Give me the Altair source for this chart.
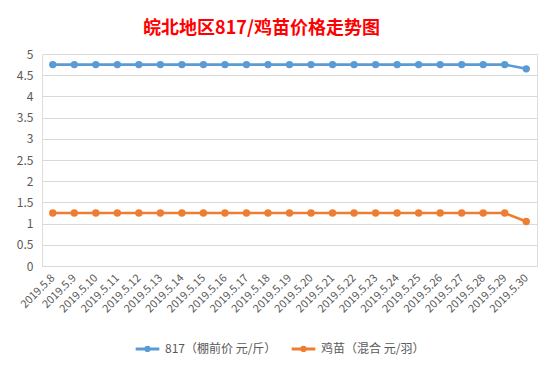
import altair as alt
import pandas as pd

dates = ["2019.5.8", "2019.5.9", "2019.5.10", "2019.5.11", "2019.5.12", "2019.5.13",
         "2019.5.14", "2019.5.15", "2019.5.16", "2019.5.17", "2019.5.18", "2019.5.19",
         "2019.5.20", "2019.5.21", "2019.5.22", "2019.5.23", "2019.5.24", "2019.5.25",
         "2019.5.26", "2019.5.27", "2019.5.28", "2019.5.29", "2019.5.30"]
price_817 = [4.75, 4.75, 4.75, 4.75, 4.75, 4.75, 4.75, 4.75, 4.75, 4.75, 4.75, 4.75,
             4.75, 4.75, 4.75, 4.75, 4.75, 4.75, 4.75, 4.75, 4.75, 4.75, 4.65]
price_chick = [1.25, 1.25, 1.25, 1.25, 1.25, 1.25, 1.25, 1.25, 1.25, 1.25, 1.25, 1.25,
               1.25, 1.25, 1.25, 1.25, 1.25, 1.25, 1.25, 1.25, 1.25, 1.25, 1.05]
series_names = ["817（棚前价 元/斤）", "鸡苗（混合 元/羽）"]
colors = ["#5B9BD5", "#ED7D31"]
y_ticks = [0, 0.5, 1, 1.5, 2, 2.5, 3, 3.5, 4, 4.5, 5]

rows = []
for name, vals in zip(series_names, [price_817, price_chick]):
    for d, v in zip(dates, vals):
        rows.append({"date": d, "value": v, "series": name})
df = pd.DataFrame(rows)

FONT = "Noto Sans CJK SC"
legend_symbol = "M-1,0L1,0M-0.14,0A0.14,0.14,0,1,1,0.14,0A0.14,0.14,0,1,1,-0.14,0Z"

chart = alt.Chart(df).mark_line(
    strokeWidth=2.6,
    point=alt.OverlayMarkDef(filled=True, size=55),
).encode(
    x=alt.X("date:N", sort=dates, title=None,
            scale=alt.Scale(type="point", padding=0.5),
            axis=alt.Axis(labelAngle=-45, labelAlign="right", labelBaseline="middle",
                          labelFontSize=11, labelColor="#595959", labelFont=FONT,
                          ticks=False, domainColor="#d9d9d9", labelPadding=10,
                          labelOverlap=False, grid=False)),
    y=alt.Y("value:Q", title=None,
            scale=alt.Scale(domain=[0, 5], nice=False),
            axis=alt.Axis(values=y_ticks, format="~g", labelFontSize=12,
                          labelColor="#595959", labelFont=FONT, ticks=False,
                          domain=False, gridColor="#d9d9d9", labelPadding=9)),
    color=alt.Color("series:N", sort=series_names,
                    scale=alt.Scale(domain=series_names, range=colors),
                    legend=alt.Legend(title=None, orient="none", direction="horizontal",
                                      legendX=92, legendY=281,
                                      symbolType=legend_symbol, symbolSize=560,
                                      symbolStrokeWidth=3,
                                      labelFontSize=12, labelColor="#595959",
                                      labelFont=FONT, columnPadding=8, labelOffset=4)),
).properties(
    width=495, height=212,
    title=alt.TitleParams("皖北地区817/鸡苗价格走势图", fontSize=18, color="#FF0000",
                          font=FONT, fontWeight="bold", anchor="middle", dx=-28,
                          offset=10),
    autosize=alt.AutoSizeParams(type="none"),
    padding={"left": 34, "top": 46, "right": 9, "bottom": 92},
).configure_view(stroke=None).configure(background="white")

chart.save("out.html", embed_options={"renderer": "svg", "actions": False})
